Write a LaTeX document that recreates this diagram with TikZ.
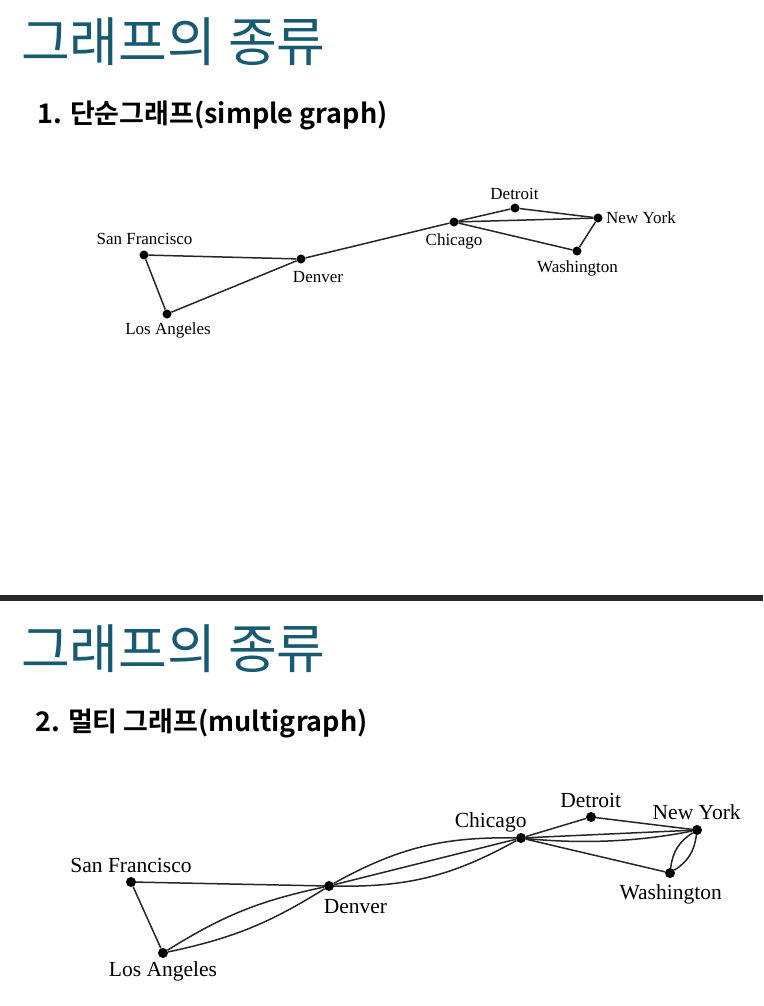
\documentclass[tikz,border=0pt]{standalone}
\usepackage{fontspec}
\setmainfont{Liberation Serif}
\newfontfamily\kor{Noto Sans CJK KR}[BoldFont={Noto Sans CJK KR Bold}]
\definecolor{titleteal}{RGB}{24,90,114}
\definecolor{bar}{RGB}{40,40,40}

\begin{document}
\begin{tikzpicture}[x=1pt,y=-1pt,
        city/.style={circle,fill=black,inner sep=0pt,minimum size=#1},
        city/.default=9pt,
        road/.style={draw=black!85,line width=1.5pt},
        smalltxt/.style={font=\fontsize{17}{17}\selectfont,anchor=base,inner sep=0pt},
        bigtxt/.style={font=\fontsize{21.5}{21.5}\selectfont,anchor=base,inner sep=0pt},
        headline/.style={font=\kor\fontsize{53}{53}\selectfont,text=titleteal,anchor=west,inner sep=0pt},
        subline/.style={font=\kor\bfseries\fontsize{27}{27}\selectfont,anchor=west,inner sep=0pt}]
    \useasboundingbox (0,0) rectangle (763,1006);

    % first slide: simple graph
    \node[headline] (head1) at (21,42) {그래프의 종류};
    \node[subline] (sub1) at (37,115) {1. 단순그래프(simple graph)};

    \node[city] (sf1) at (144,255) {};
    \node[city] (la1) at (167,314) {};
    \node[city] (den1) at (301,259) {};
    \node[city] (chi1) at (454,222) {};
    \node[city] (det1) at (515,208) {};
    \node[city] (ny1) at (598,218) {};
    \node[city] (wa1) at (577,251) {};

    \node[smalltxt] (sf1l) at (144.5,244.5) {San Francisco};
    \node[smalltxt] (la1l) at (168,334.5) {Los Angeles};
    \node[smalltxt] (den1l) at (318,282.5) {Denver};
    \node[smalltxt] (chi1l) at (454,245.5) {Chicago};
    \node[smalltxt] (det1l) at (514.5,199.5) {Detroit};
    \node[smalltxt,anchor=base west] (ny1l) at (606,223.5) {New York};
    \node[smalltxt] (wa1l) at (577.5,272.5) {Washington};

    \draw[road] (sf1) -- (den1) -- (la1) -- (sf1);
    \draw[road] (den1) -- (chi1);
    \draw[road] (chi1) -- (det1) -- (ny1) -- (wa1) -- (chi1);
    \draw[road] (chi1) -- (ny1);

    \fill[bar] (0,595) rectangle (763,601);

    % second slide: multigraph
    \node[headline] (head2) at (21,649) {그래프의 종류};
    \node[subline] (sub2) at (35,723) {2. 멀티 그래프(multigraph)};

    \node[city=10pt] (sf2) at (131,882) {};
    \node[city=10pt] (la2) at (163,953) {};
    \node[city=10pt] (den2) at (329,886) {};
    \node[city=10pt] (chi2) at (521,838) {};
    \node[city=10pt] (det2) at (591,817) {};
    \node[city=10pt] (ny2) at (697,830) {};
    \node[city=10pt] (wa2) at (670,873) {};

    \node[bigtxt] (sf2l) at (131,872.7) {San Francisco};
    \node[bigtxt] (la2l) at (163,976) {Los Angeles};
    \node[bigtxt] (den2l) at (355.5,913) {Denver};
    \node[bigtxt] (chi2l) at (490.7,827.7) {Chicago};
    \node[bigtxt] (det2l) at (590.7,807.7) {Detroit};
    \node[bigtxt] (ny2l) at (696.7,819.7) {New York};
    \node[bigtxt] (wa2l) at (670.7,899.7) {Washington};

    \draw[road] (sf2) -- (den2);
    \draw[road] (sf2) -- (la2);
    \draw[road] (la2) to[bend left=10] (den2);
    \draw[road] (la2) to[bend right=10] (den2);
    \draw[road] (den2) to[bend left=15] (chi2);
    \draw[road] (den2) -- (chi2);
    \draw[road] (den2) to[bend right=15] (chi2);
    \draw[road] (chi2) -- (det2) -- (ny2);
    \draw[road] (chi2) -- (ny2);
    \draw[road] (chi2) .. controls +(59,6) and +(-59,12) .. (ny2);
    \draw[road] (chi2) -- (wa2);
    \draw[road] (ny2) to[bend left=25] (wa2);
    \draw[road] (ny2) to[bend right=25] (wa2);
\end{tikzpicture}
\end{document}
